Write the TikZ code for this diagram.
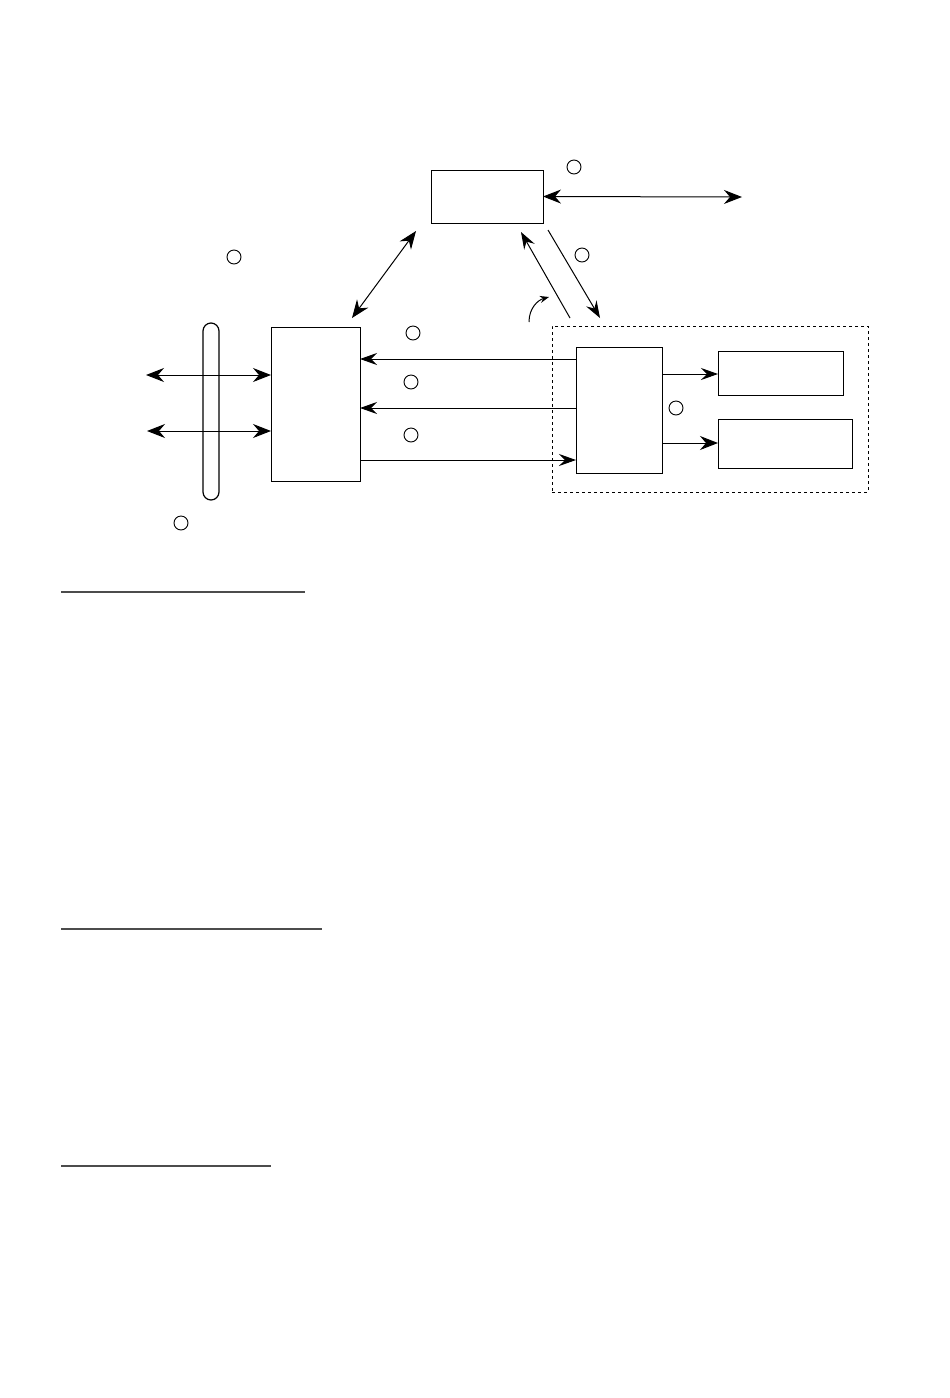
\documentclass[tikz,border=0pt]{standalone}
\usetikzlibrary{arrows.meta}
\begin{document}
\begin{tikzpicture}[x=1pt,y=-1pt,
  box/.style={draw,line width=1pt,inner sep=0pt,outer sep=0pt},
  ring/.style={draw,circle,line width=0.9pt,minimum size=14pt,inner sep=0pt},
  big/.style={line width=1pt,{Stealth[length=18pt,width=14pt,inset=6pt]}-{Stealth[length=18pt,width=14pt,inset=6pt]}},
  fwd/.style={line width=1pt,-{Stealth[length=17pt,width=12pt,inset=6pt]}},
  rule/.style={line width=1.6pt,draw=black!70}]
\useasboundingbox (0,0) rectangle (950,1398);
\fill[white] (0,0) rectangle (950,1398);
% boxes
\node[box,minimum width=112pt,minimum height=53pt] (top) at (487,196.5) {};
\node[box,minimum width=89pt,minimum height=154pt] (left) at (315.5,404) {};
\node[box,minimum width=86pt,minimum height=126pt] (inner) at (619,410) {};
\node[box,minimum width=125pt,minimum height=44pt] (r1) at (780.5,373) {};
\node[box,minimum width=134pt,minimum height=49pt] (r2) at (785,443.5) {};
\node[draw,dashed,line width=0.9pt,minimum width=316pt,minimum height=166pt,inner sep=0pt] (group) at (710,409) {};
\node[draw,rounded corners=8pt,line width=1.2pt,minimum width=16pt,minimum height=177pt,inner sep=0pt] (pill) at (211,411.5) {};
% rings
\node[ring] (c1) at (574,167) {};
\node[ring] (c2) at (234,257) {};
\node[ring] (c3) at (582,255) {};
\node[ring] (c4) at (413,333) {};
\node[ring] (c5) at (411,382) {};
\node[ring] (c6) at (411,435) {};
\node[ring] (c7) at (676,408) {};
\node[ring] (c8) at (181,523) {};
% free ends
\coordinate (e1) at (742,197);
\coordinate (d1) at (352,318);
\coordinate (d2) at (416,231);
\coordinate (s1) at (548,230);
\coordinate (s2) at (600,318);
\coordinate (u1) at (570,318);
\coordinate (u2) at (521,232);
\coordinate (k1) at (529,322);
\coordinate (k2) at (549,297);
\coordinate (l1) at (146,375);
\coordinate (l2) at (147,431);
\coordinate (y1) at (0,359);
\coordinate (y2) at (0,408);
\coordinate (y3) at (0,460);
\coordinate (y4) at (0,374);
\coordinate (y5) at (0,443);
% connectors
\draw[big] (top.east) -- (e1);
\draw[big] (d1) -- (d2);
\draw[fwd] (s1) -- (s2);
\draw[fwd] (u1) -- (u2);
\draw[line width=1pt,-{Stealth[length=9pt,width=7pt,inset=3pt]}] (k1) .. controls (529,308) and (538,300) .. (k2);
\draw[big] (l1) -- (left.west |- l1);
\draw[big] (l2) -- (left.west |- l2);
\draw[fwd] (inner.west |- y1) -- (left.east |- y1);
\draw[fwd] (inner.west |- y2) -- (left.east |- y2);
\draw[fwd] (left.east |- y3) -- (inner.west |- y3);
\draw[fwd] (inner.east |- y4) -- (r1.west |- y4);
\draw[line width=1pt,-{Stealth[length=18pt,width=14pt,inset=6pt]}] (inner.east |- y5) -- (r2.west |- y5);
% rules
\draw[rule] (61,592) -- (305,592);
\draw[rule] (61,929) -- (322,929);
\draw[rule] (61,1166) -- (271,1166);
\end{tikzpicture}
\end{document}
